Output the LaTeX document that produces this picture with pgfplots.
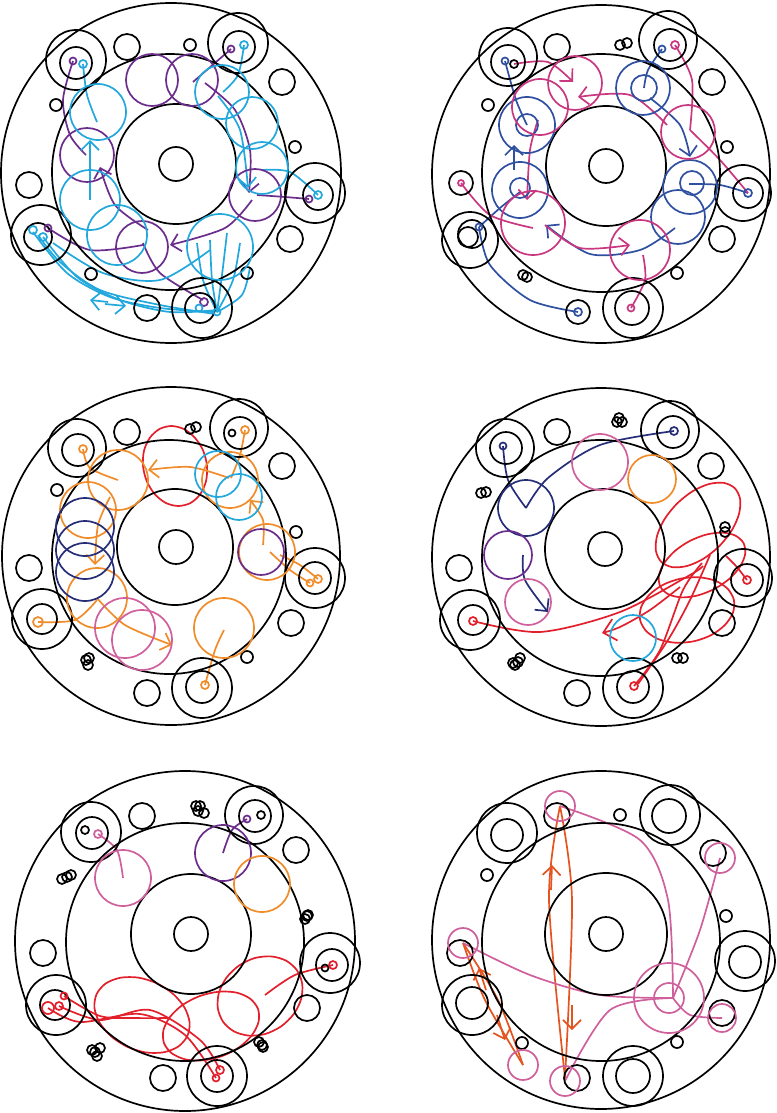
\documentclass[border=0pt]{standalone}
\usepackage{pgfplots}
\pgfplotsset{compat=1.18}
\usetikzlibrary{arrows.meta}

\definecolor{cyanC}{HTML}{22A8DC}
\definecolor{purpleC}{HTML}{6B2D8C}
\definecolor{blueC}{HTML}{2F4FA0}
\definecolor{magC}{HTML}{C8377F}
\definecolor{navyC}{HTML}{262E78}
\definecolor{orangeC}{HTML}{F08C2A}
\definecolor{redC}{HTML}{E2202C}
\definecolor{pinkC}{HTML}{D0609C}
\definecolor{oredC}{HTML}{E5531F}

\pgfplotsset{
  pth/.style={#1, line width=1.7pt, smooth, no markers},
  arr/.style={-{Straight Barb[length=9pt,width=18pt]}},
}
% circles of one colour and one radius (in px = pt), centres as data
\newcommand{\rg}[3]{\addplot[color=#1, only marks, mark=o, mark size=#2pt,
  mark options={solid, line width=1.7pt}] coordinates {#3};}

\begin{document}
\begin{tikzpicture}
\begin{axis}[x=1pt, y=1pt, y dir=reverse,
  xmin=0, xmax=776, ymin=0, ymax=1113,
  hide axis, clip=false, enlargelimits=false]

\addplot[draw=none] coordinates {(0,0) (776,1113)};

% ---------- panel 1 (top left)
\rg{black}{17}{(176,164)}
\rg{black}{60}{(176,164)}
\rg{black}{118}{(170,172)}
\rg{black}{170}{(171,173)}
\rg{black}{30}{(76,60) (238,43) (315,193) (41,235) (202,308)}
\rg{black}{16}{(76,63) (239,47)}
\rg{black}{15}{(318,195) (200,308)}
\rg{black}{14}{(38,237)}
\rg{black}{13}{(127,47) (282,82) (29,185) (290,239) (147,308)}
\rg{black}{6}{(190,45) (56,105) (295,147) (91,274) (247,273)}
\rg{purpleC}{3.5}{(73,61) (231,49) (309,199) (48,228)}
\rg{purpleC}{4}{(204,302)}
\rg{purpleC}{26}{(152,80) (192,80) (255,195) (142,247)}
\rg{purpleC}{27}{(87,155)}
\rg{cyanC}{4}{(83,64) (244,45) (318,195) (33,230) (43,237)}
\rg{cyanC}{3.5}{(199,308) (217,312)}
\rg{cyanC}{27}{(222,92)}
\rg{cyanC}{26}{(252,123) (262,168)}
\rg{cyanC}{28}{(98,112)}
\rg{cyanC}{30}{(90,200) (117,235)}
\rg{cyanC}{33}{(220,247)}
\addplot[pth=purpleC] coordinates {(231,49) (193,82)};
\addplot[pth=purpleC, arr] coordinates {(205,83) (235,110) (250,150) (249,193)};
\addplot[pth=purpleC] coordinates {(257,195) (285,197) (309,199)};
\addplot[pth=purpleC, arr] coordinates {(252,200) (225,228) (170,245)};
\addplot[pth=purpleC] coordinates {(143,245) (90,250) (48,228)};
\addplot[pth=purpleC] coordinates {(143,243) (160,273) (203,300)};
\addplot[pth=purpleC] coordinates {(73,61) (63,100) (70,135) (86,155)};
\addplot[pth=purpleC, arr] coordinates {(148,230) (115,205) (100,167)};
\addplot[pth=cyanC] coordinates {(83,64) (87,95) (97,122)};
\addplot[pth=cyanC] coordinates {(244,45) (238,75) (223,92)};
\addplot[pth=cyanC, arr] coordinates {(218,96) (240,130) (248,188)};
\addplot[pth=cyanC] coordinates {(318,195) (290,172) (262,170)};
\addplot[pth=cyanC, arr] coordinates {(90,200) (90,140)};
\addplot[pth=cyanC] coordinates {(217,312) (203,280) (197,243)};
\addplot[pth=cyanC] coordinates {(217,312) (212,280) (210,240)};
\addplot[pth=cyanC] coordinates {(217,312) (222,275) (227,233)};
\addplot[pth=cyanC] coordinates {(217,312) (233,280) (240,243)};
\addplot[pth=cyanC] coordinates {(217,312) (242,295) (250,267)};
\addplot[pth=cyanC] coordinates {(43,237) (77,277) (120,300) (170,312) (217,310)};
\addplot[pth=cyanC] coordinates {(33,232) (67,273) (110,297) (160,308) (213,312)};
\addplot[pth=cyanC] coordinates {(38,235) (60,262) (100,290) (160,305) (215,314)};
\addplot[pth=cyanC] coordinates {(53,243) (103,273) (160,280) (210,250)};
\addplot[pth=cyanC, arr] coordinates {(108,302) (90,300)};
\addplot[pth=cyanC, arr] coordinates {(105,304) (126,306)};

% ---------- panel 2 (top right)
\rg{black}{17}{(606,166) (508,62) (632,308)}
\rg{black}{60}{(606,166)}
\rg{black}{119}{(601,173)}
\rg{black}{169}{(601,174)}
\rg{black}{29}{(508,57) (668,40)}
\rg{black}{4}{(514,64)}
\rg{black}{16}{(670,45)}
\rg{black}{28}{(743,193) (470,240)}
\rg{black}{15}{(748,193)}
\rg{black}{10}{(468,237)}
\rg{black}{14}{(472,234)}
\rg{black}{12}{(461,183) (578,312)}
\rg{black}{30}{(633,308)}
\rg{black}{13}{(557,47) (712,82) (722,239)}
\rg{black}{5}{(620,45) (627,43) (523,275) (527,277)}
\rg{black}{6}{(488,105) (727,147) (677,273)}
\rg{blueC}{3.5}{(505,61) (662,49) (479,227)}
\rg{blueC}{4}{(578,312) (748,193)}
\rg{blueC}{27}{(643,88) (690,187) (678,217)}
\rg{blueC}{13}{(644,88)}
\rg{blueC}{28}{(527,125) (520,190)}
\rg{blueC}{11}{(527,125)}
\rg{blueC}{10}{(520,188)}
\rg{blueC}{12}{(692,183)}
\rg{magC}{4}{(675,45)}
\rg{magC}{3}{(461,183)}
\rg{magC}{3.5}{(631,308)}
\rg{magC}{27}{(575,83) (688,132)}
\rg{magC}{28}{(540,107)}
\rg{magC}{32}{(533,223)}
\rg{magC}{30}{(640,250)}
\addplot[pth=blueC] coordinates {(505,61) (516,100) (527,125)};
\addplot[pth=blueC] coordinates {(662,49) (648,70) (644,88)};
\addplot[pth=blueC, arr] coordinates {(650,98) (680,125) (690,157)};
\addplot[pth=blueC] coordinates {(748,193) (720,185) (689,184)};
\addplot[pth=blueC, arr] coordinates {(675,228) (640,250) (590,254) (546,225)};
\addplot[pth=blueC, arr] coordinates {(514,170) (514,145)};
\addplot[pth=blueC] coordinates {(479,227) (500,208) (520,192)};
\addplot[pth=blueC] coordinates {(479,227) (490,265) (530,300) (578,312)};
\addplot[pth=magC, arr] coordinates {(514,64) (548,62) (573,82)};
\addplot[pth=magC, arr] coordinates {(667,125) (630,95) (578,97)};
\addplot[pth=magC] coordinates {(675,45) (692,80) (690,130)};
\addplot[pth=magC] coordinates {(690,130) (720,160) (748,193)};
\addplot[pth=magC, arr] coordinates {(538,120) (530,150) (527,200)};
\addplot[pth=magC] coordinates {(461,183) (490,215) (533,228)};
\addplot[pth=magC, arr] coordinates {(545,225) (580,248) (630,245)};
\addplot[pth=magC] coordinates {(631,308) (645,280) (643,255)};

% ---------- panel 3 (middle left)
\rg{black}{17}{(176,547)}
\rg{black}{58}{(175,547)}
\rg{black}{117}{(169,557)}
\rg{black}{169}{(171,556)}
\rg{black}{29}{(77,448) (239,428)}
\rg{black}{16}{(78,450) (240,433) (315,578) (202,687)}
\rg{black}{3.5}{(232,433)}
\rg{black}{30}{(315,578) (42,619) (202,688)}
\rg{black}{15}{(42,619)}
\rg{black}{13}{(127,432) (282,466) (29,568) (291,623) (147,693)}
\rg{black}{5}{(190,429) (196,427) (86,660) (89,658) (88,665)}
\rg{black}{6}{(57,490) (296,532) (247,657)}
\rg{orangeC}{4}{(83,449) (245,430) (318,579) (205,685)}
\rg{orangeC}{3.5}{(310,583)}
\rg{orangeC}{5}{(38,622)}
\rg{orangeC}{30}{(118,480) (97,598) (224,628)}
\rg{orangeC}{28}{(230,480) (88,510) (267,552)}
\rg{cyanC}{23}{(218,474) (239,497)}
\rg{purpleC}{23}{(261,552)}
\rg{navyC}{29}{(85,527) (85,550) (85,572)}
\rg{pinkC}{30}{(125,628) (142,640)}
\addplot[pth=redC, smooth cycle] coordinates {(207,466) (206.0,481.3) (200.1,494.3) (190.5,503.0) (178.4,506) (165.9,503.0) (154.9,494.3) (146.8,481.3) (143,466) (144.0,450.7) (149.9,437.7) (159.5,429.0) (171.4,426) (183.8,429.0) (194.9,437.7) (203.2,450.7)};
\addplot[pth=orangeC] coordinates {(83,449) (90,468) (118,480)};
\addplot[pth=orangeC] coordinates {(245,430) (240,455) (231,478)};
\addplot[pth=orangeC, arr] coordinates {(229,478) (190,467) (148,470)};
\addplot[pth=orangeC, arr] coordinates {(263,545) (263,520) (250,500)};
\addplot[pth=orangeC] coordinates {(310,583) (290,570) (270,552)};
\addplot[pth=orangeC] coordinates {(318,579) (300,565) (280,555)};
\addplot[pth=orangeC, arr] coordinates {(110,497) (98,525) (95,565)};
\addplot[pth=orangeC] coordinates {(38,622) (75,620) (97,600)};
\addplot[pth=orangeC, arr] coordinates {(97,598) (125,625) (172,645)};
\addplot[pth=orangeC] coordinates {(205,685) (215,650) (224,630)};

% ---------- panel 4 (middle right)
\rg{black}{17}{(605,549)}
\rg{black}{60}{(605,549)}
\rg{black}{118}{(600,558)}
\rg{black}{169}{(601,557)}
\rg{black}{29}{(505,448) (670,430) (743,578)}
\rg{black}{16}{(506,448) (673,432) (747,580) (633,687)}
\rg{black}{30}{(470,620) (633,688)}
\rg{black}{15}{(473,620)}
\rg{black}{13}{(557,432) (711,466) (459,568) (722,623) (577,693)}
\rg{black}{5}{(619,418) (617,422) (622,422) (481,493) (486,492) (725,527) (725,532) (515,665) (518,662) (513,663) (520,658) (677,658) (683,658)}
\rg{navyC}{3.5}{(503,446)}
\rg{navyC}{4}{(674,431)}
\rg{navyC}{28}{(526,508)}
\rg{redC}{4}{(747,580) (473,621) (634,686)}
\rg{pinkC}{28}{(600,462)}
\rg{pinkC}{23}{(528,602)}
\rg{orangeC}{24}{(652,479)}
\rg{purpleC}{24}{(508,555)}
\rg{cyanC}{23}{(633,638)}
\addplot[pth=redC, smooth cycle] coordinates {(734.8,488.2) (740.1,499.1) (739.0,514.0) (731.7,530.5) (719.2,546.2) (703.5,558.7) (687.0,566.0) (672.1,567.1) (661.2,561.8) (655.9,550.9) (657.0,536.0) (664.3,519.5) (676.8,503.8) (692.5,491.3) (709.0,484.0) (723.9,482.9)};
\addplot[pth=redC, smooth cycle] coordinates {(743.5,543.0) (745.2,553.8) (740.3,566.2) (729.6,578.6) (714.7,588.8) (697.8,595.4) (681.7,597.4) (668.6,594.4) (660.5,587.0) (658.8,576.2) (663.7,563.8) (674.4,551.4) (689.3,541.2) (706.2,534.6) (722.3,532.6) (735.4,535.6)};
\addplot[pth=redC, smooth cycle] coordinates {(733.9,600.0) (732.9,612.8) (724.9,625.0) (711.2,635.1) (693.7,641.3) (675.2,642.7) (658.5,639.2) (646.3,631.2) (640.1,620.0) (641.1,607.2) (649.1,595.0) (662.8,584.9) (680.3,578.7) (698.8,577.3) (715.5,580.8) (727.7,588.8)};
\addplot[pth=redC] coordinates {(473,621) (540,632) (620,612) (690,575) (703,566)};
\addplot[pth=redC] coordinates {(634,686) (660,650) (683,590) (702,563)};
\addplot[pth=redC] coordinates {(638,684) (668,640) (690,600) (710,555)};
\addplot[pth=redC, -{Straight Barb[length=12pt,width=22pt]}] coordinates {(680,587) (650,610) (620,627) (602,633)};
\addplot[pth=redC] coordinates {(747,580) (736,566) (726,556)};
\addplot[pth=navyC] coordinates {(503,446) (508,480) (526,508)};
\addplot[pth=navyC] coordinates {(526,508) (548,478) (600,445) (674,431)};
\addplot[pth=navyC, arr] coordinates {(523,555) (525,580) (548,612)};

% ---------- panel 5 (bottom left)
\rg{black}{17}{(191,934)}
\rg{black}{60}{(191,934)}
\rg{black}{119}{(185,942)}
\rg{black}{170}{(185,941)}
\rg{black}{30}{(91,832) (330,963) (56,1005) (217,1076)}
\rg{black}{16}{(92,833) (255,816) (332,965) (217,1076)}
\rg{black}{4}{(85,830) (261,815)}
\rg{black}{29}{(254,815)}
\rg{black}{3.5}{(325,968)}
\rg{black}{15}{(55,1005)}
\rg{black}{13}{(142,816) (296,850) (43,953) (307,1008) (163,1078)}
\rg{black}{5}{(200,806) (198,811) (204,813) (196,806) (62,879) (67,877) (71,875) (307,916) (308,915) (305,919) (95,1052) (100,1048) (97,1056) (92,1050) (262,1045) (263,1047) (259,1042)}
\rg{pinkC}{4}{(98,834)}
\rg{pinkC}{28}{(123,878)}
\rg{purpleC}{3.5}{(247,819)}
\rg{purpleC}{28}{(223,853)}
\rg{orangeC}{28}{(262,884)}
\rg{redC}{4}{(333,965) (59,1006) (220,1070)}
\rg{redC}{6}{(48,1008)}
\rg{redC}{3.5}{(64,996) (216,1078)}
\addplot[pth=pinkC] coordinates {(98,834) (117,850) (123,878)};
\addplot[pth=purpleC] coordinates {(247,819) (232,830) (223,853)};
\addplot[pth=redC, smooth cycle] coordinates {(187.3,1036.1) (178.2,1046.6) (163.5,1052.3) (145.6,1052.4) (127.2,1046.7) (111.0,1036.2) (99.5,1022.5) (94.4,1007.6) (96.7,993.9) (105.8,983.4) (120.5,977.7) (138.4,977.6) (156.8,983.3) (173.0,993.8) (184.5,1007.5) (189.6,1022.4)};
\addplot[pth=redC, smooth cycle] coordinates {(258.0,1008.9) (258.6,1021.7) (251.9,1035.2) (239.1,1047.3) (221.9,1056.1) (203.1,1060.3) (185.5,1059.4) (171.8,1053.3) (164.0,1043.1) (163.4,1030.3) (170.1,1016.8) (182.9,1004.7) (200.1,995.9) (218.9,991.7) (236.5,992.6) (250.2,998.7)};
\addplot[pth=redC, smooth cycle] coordinates {(296.9,970.2) (302.2,983.8) (301.1,999.2) (293.7,1014.1) (281.2,1026.3) (265.5,1033.9) (248.9,1035.6) (234.0,1031.4) (223.1,1021.8) (217.8,1008.2) (218.9,992.8) (226.3,977.9) (238.8,965.7) (254.5,958.1) (271.1,956.4) (286.0,960.6)};
\addplot[pth=redC] coordinates {(48,1008) (80,1022) (140,1014) (185,1035) (216,1078)};
\addplot[pth=redC] coordinates {(59,1006) (100,1020) (150,1010) (200,1040) (220,1070)};
\addplot[pth=redC] coordinates {(64,996) (100,1016) (135,1018) (170,1018)};
\addplot[pth=redC] coordinates {(265,995) (295,975) (333,965)};

% ---------- panel 6 (bottom right)
\rg{black}{17}{(606,934) (669,816) (633,1076)}
\rg{black}{61}{(606,934)}
\rg{black}{119}{(601,942)}
\rg{black}{169}{(601,940)}
\rg{black}{30}{(507,833) (670,815) (745,961) (472,1005) (633,1076)}
\rg{black}{16}{(507,835) (745,962) (472,1003)}
\rg{black}{13}{(557,816) (713,853) (460,953) (722,1013) (577,1078)}
\rg{black}{6}{(620,815) (487,875) (726,916) (677,1042) (522,1043)}
\rg{pinkC}{15}{(560,806) (720,858) (463,943) (669,998) (523,1065) (565,1081)}
\rg{pinkC}{35}{(669,998)}
\rg{pinkC}{14}{(722,1018)}
\addplot[pth=oredC] coordinates {(560,806) (549,900) (565,1078)};
\addplot[pth=oredC] coordinates {(560,806) (572,900) (565,1078)};
\addplot[pth=oredC, arr] coordinates {(551,890) (552,865)};
\addplot[pth=oredC, arr] coordinates {(572,1005) (572,1030)};
\addplot[pth=oredC] coordinates {(463,943) (485,1000) (523,1065)};
\addplot[pth=oredC] coordinates {(463,943) (498,1000) (523,1065)};
\addplot[pth=oredC, arr] coordinates {(486,990) (479,968)};
\addplot[pth=oredC, arr] coordinates {(497,1015) (505,1040)};
\addplot[pth=pinkC] coordinates {(560,806) (640,840) (668,900) (673,998)};
\addplot[pth=pinkC] coordinates {(720,858) (700,930) (673,998)};
\addplot[pth=pinkC] coordinates {(463,943) (530,975) (600,995) (673,998)};
\addplot[pth=pinkC] coordinates {(673,998) (610,1010) (565,1081)};
\addplot[pth=pinkC] coordinates {(673,998) (690,1015) (722,1018)};

\end{axis}
\end{tikzpicture}
\end{document}
